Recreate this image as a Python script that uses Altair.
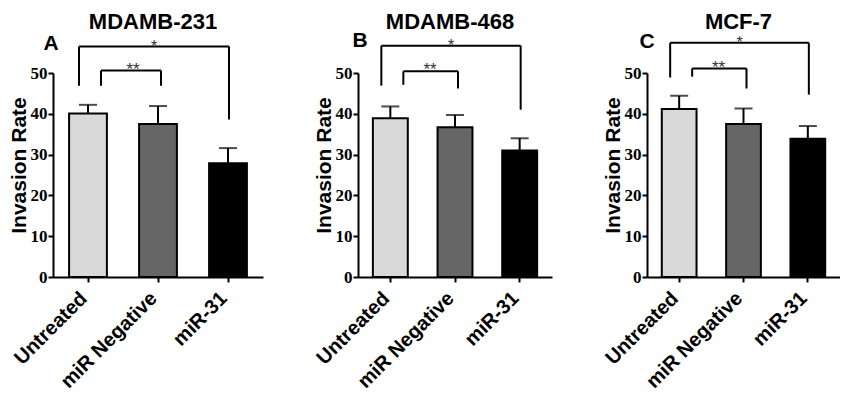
import altair as alt
import pandas as pd

categories = ["Untreated", "miR Negative", "miR-31"]
panel_names = ["MDAMB-231", "MDAMB-468", "MCF-7"]
panel_letters = ["A", "B", "C"]
bar_colors = ["#d9d9d9", "#666666", "#000000"]

means_231 = [40.1, 37.5, 27.9]
upper_231 = [42.2, 41.9, 31.6]
means_468 = [38.9, 36.7, 31.0]
upper_468 = [41.8, 39.7, 34.0]
means_mcf7 = [41.2, 37.5, 33.9]
upper_mcf7 = [44.4, 41.3, 37.0]

# significance brackets: [level, left leg bottom, right leg bottom]
outer_231 = [56.5, 46.9, 38.6]
inner_231 = [50.6, 46.9, 46.9]
outer_468 = [56.7, 46.9, 41.0]
inner_468 = [50.4, 47.1, 46.2]
outer_mcf7 = [57.4, 48.9, 44.7]
inner_mcf7 = [51.1, 49.1, 46.2]

y_ticks = [0, 10, 20, 30, 40, 50]

SANS = "Liberation Sans"
SERIF = "Liberation Serif"


def panel(name, letter, means, upper, outer, inner, width, letter_dx, letter_y):
    bars = pd.DataFrame({"cat": categories, "mean": means, "upper": upper})
    br = pd.DataFrame({
        "kind": ["outer", "inner"],
        "left": ["Untreated", "Untreated"],
        "right": ["miR-31", "miR Negative"],
        "level": [outer[0], inner[0]],
        "lb": [outer[1], inner[1]],
        "rb": [outer[2], inner[2]],
        "star": ["*", "**"],
        "mid": ["miR Negative", "miR Negative"],
    })
    xs = alt.Scale(domain=categories, paddingInner=0.46, paddingOuter=0.23)
    ys = alt.Scale(domain=[0, 50], nice=False, zero=True)
    x_axis = alt.Axis(
        labelAngle=-45, labelAlign="right", labelBaseline="middle",
        labelFont=SANS, labelFontSize=20, labelFontWeight="bold", labelColor="black",
        labelPadding=13, labelOffset=-4, tickSize=5, tickWidth=2, tickColor="black",
        domainColor="black", domainWidth=2, grid=False, title=None,
    )
    y_axis = alt.Axis(
        values=y_ticks, labelFont=SERIF, labelFontSize=17, labelFontWeight="bold",
        labelColor="black", labelPadding=1, tickSize=5, tickWidth=2, tickColor="black",
        domainColor="black", domainWidth=2, grid=False,
        title="Invasion Rate", titleFont=SANS, titleFontSize=21, titleFontWeight="bold",
        titleColor="black", titleX=-34, titleY=92, titleAngle=-90,
        titleAlign="center", titleBaseline="middle",
    )

    def X(f):
        return alt.X(f, scale=xs, axis=x_axis, sort=categories)

    def Y(f):
        return alt.Y(f, scale=ys, axis=y_axis)

    base = alt.Chart(bars)
    bar_layer = base.mark_bar(stroke="black", strokeWidth=2).encode(
        x=X("cat:N"), y=Y("mean:Q"),
        color=alt.Color("cat:N", scale=alt.Scale(domain=categories, range=bar_colors), legend=None),
    )
    err = base.mark_rule(strokeWidth=2, color="black").encode(x=X("cat:N"), y=Y("mean:Q"), y2="upper:Q")
    cap = base.mark_tick(thickness=2, size=18, color="black").encode(x=X("cat:N"), y=Y("upper:Q"))

    bb = alt.Chart(br)
    o = bb.transform_filter(alt.datum.kind == "outer")
    i = bb.transform_filter(alt.datum.kind == "inner")
    o_h = o.mark_rule(strokeWidth=2, color="black", xOffset=-9, x2Offset=1).encode(
        x=X("left:N"), x2="right:N", y=Y("level:Q"))
    o_l = o.mark_rule(strokeWidth=2, color="black", xOffset=-9).encode(
        x=X("left:N"), y=Y("level:Q"), y2="lb:Q")
    o_r = o.mark_rule(strokeWidth=2, color="black", xOffset=1).encode(
        x=X("right:N"), y=Y("level:Q"), y2="rb:Q")
    i_h = i.mark_rule(strokeWidth=2, color="black", xOffset=13, x2Offset=3).encode(
        x=X("left:N"), x2="right:N", y=Y("level:Q"))
    i_l = i.mark_rule(strokeWidth=2, color="black", xOffset=13).encode(
        x=X("left:N"), y=Y("level:Q"), y2="lb:Q")
    i_r = i.mark_rule(strokeWidth=2, color="black", xOffset=3).encode(
        x=X("right:N"), y=Y("level:Q"), y2="rb:Q")
    o_s = o.mark_text(font=SANS, fontSize=16, color="#333333", dx=-4, dy=5.5, baseline="alphabetic").encode(
        x=X("mid:N"), y=Y("level:Q"), text="star:N")
    i_s = i.mark_text(font=SANS, fontSize=17, color="#333333", dx=-25, dy=4, baseline="alphabetic").encode(
        x=X("mid:N"), y=Y("level:Q"), text="star:N")

    title = alt.Chart(pd.DataFrame({"t": [name]})).mark_text(
        font=SANS, fontSize=22, fontWeight="bold", color="black", align="center", baseline="alphabetic"
    ).encode(x=alt.value(width / 2 - 5), y=alt.value(-44), text="t:N")
    let = alt.Chart(pd.DataFrame({"t": [letter]})).mark_text(
        font=SANS, fontSize=21, fontWeight="bold", color="black", align="center", baseline="alphabetic"
    ).encode(x=alt.value(letter_dx), y=alt.value(letter_y), text="t:N")

    return alt.layer(bar_layer, err, cap, o_h, o_l, o_r, i_h, i_l, i_r, o_s, i_s, title, let).properties(
        width=width, height=204
    )


pA = panel(panel_names[0], panel_letters[0], means_231, upper_231, outer_231, inner_231, 210, -2, -23)
pB = panel(panel_names[1], panel_letters[1], means_468, upper_468, outer_468, inner_468, 194, 2, -26)
pC = panel(panel_names[2], panel_letters[2], means_mcf7, upper_mcf7, outer_mcf7, inner_mcf7, 193, 0, -25)

chart = alt.hconcat(
    pA, pB, pC, spacing=95, bounds="flush",
    padding={"top": 3, "left": 0, "right": 0, "bottom": 0},
).configure_view(strokeWidth=0)

chart.save("out.html", embed_options={"renderer": "svg", "actions": False})
